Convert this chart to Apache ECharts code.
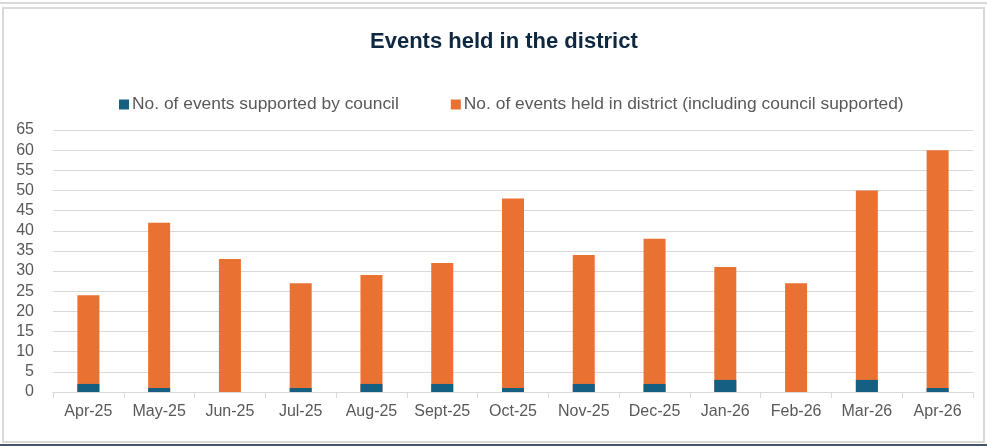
<!DOCTYPE html>
<html>
<head>
<meta charset="utf-8">
<script src="https://cdn.jsdelivr.net/npm/echarts@6/dist/echarts.min.js"></script>
<style>
  html, body { margin: 0; padding: 0; background: #fff; }
  #frame { position: absolute; left: 2px; top: 7px; width: 979px; height: 432px; border: 2px solid #d9d9d9; }
  #topline { position: absolute; left: 0; top: 2px; width: 987px; height: 2px; background: #d9d9d9; }
  #bottomline { position: absolute; left: 0; top: 444px; width: 987px; height: 2px; background: #44546a; }
  #chart { position: absolute; left: 0; top: 0; width: 987px; height: 446px; }
</style>
</head>
<body>
<div id="topline"></div>
<div id="frame"></div>
<div id="bottomline"></div>
<div id="chart"></div>
<script>
// months shown on the x axis
const months = ['Apr-25', 'May-25', 'Jun-25', 'Jul-25', 'Aug-25', 'Sept-25', 'Oct-25',
                'Nov-25', 'Dec-25', 'Jan-26', 'Feb-26', 'Mar-26', 'Apr-26'];
// events supported by council
const councilEvents = [2, 1, 0, 1, 2, 2, 1, 2, 2, 3, 0, 3, 1];
// all events held in district (council supported included)
const districtEvents = [24, 42, 33, 27, 29, 32, 48, 34, 38, 31, 27, 50, 60];

const councilName = 'No. of events supported by council';
const districtName = 'No. of events held in district (including council supported)';

let chart = echarts.init(document.getElementById('chart'));

let option = {
    animation: false,
    title: {
        text: 'Events held in the district',
        left: 365,
        top: 26,
        textStyle: {
            fontFamily: 'Liberation Sans',
            fontSize: 22,
            fontWeight: 'bold',
            color: '#0e2841'
        }
    },
    legend: {
        data: [councilName, districtName],
        left: 114,
        top: 91,
        icon: 'rect',
        itemWidth: 10,
        itemHeight: 10,
        itemGap: 52,
        textStyle: {
            fontFamily: 'Liberation Sans',
            fontSize: 17.4,
            color: '#595959',
            padding: [0, 0, 0, -2]
        }
    },
    grid: {
        left: 53,
        right: 14,
        top: 130,
        bottom: 54
    },
    xAxis: {
        type: 'category',
        data: months,
        axisLine: { lineStyle: { color: '#d9d9d9', width: 1 } },
        axisTick: { show: true, length: 6, lineStyle: { color: '#d9d9d9' } },
        axisLabel: {
            margin: 12,
            fontFamily: 'Liberation Sans',
            fontSize: 16,
            color: '#595959',
            interval: 0
        }
    },
    yAxis: {
        type: 'value',
        min: 0,
        max: 65,
        interval: 5,
        axisLabel: {
            margin: 19,
            fontFamily: 'Liberation Sans',
            fontSize: 16,
            color: '#595959'
        },
        splitLine: { lineStyle: { color: '#d9d9d9', width: 1 } }
    },
    series: [
        {
            name: districtName,
            type: 'bar',
            data: districtEvents,
            barWidth: 22,
            barGap: '-100%',
            itemStyle: { color: '#e97132' }
        },
        {
            name: councilName,
            type: 'bar',
            data: councilEvents,
            barWidth: 22,
            barGap: '-100%',
            itemStyle: { color: '#156082' }
        }
    ]
};

chart.setOption(option);
</script>
</body>
</html>
